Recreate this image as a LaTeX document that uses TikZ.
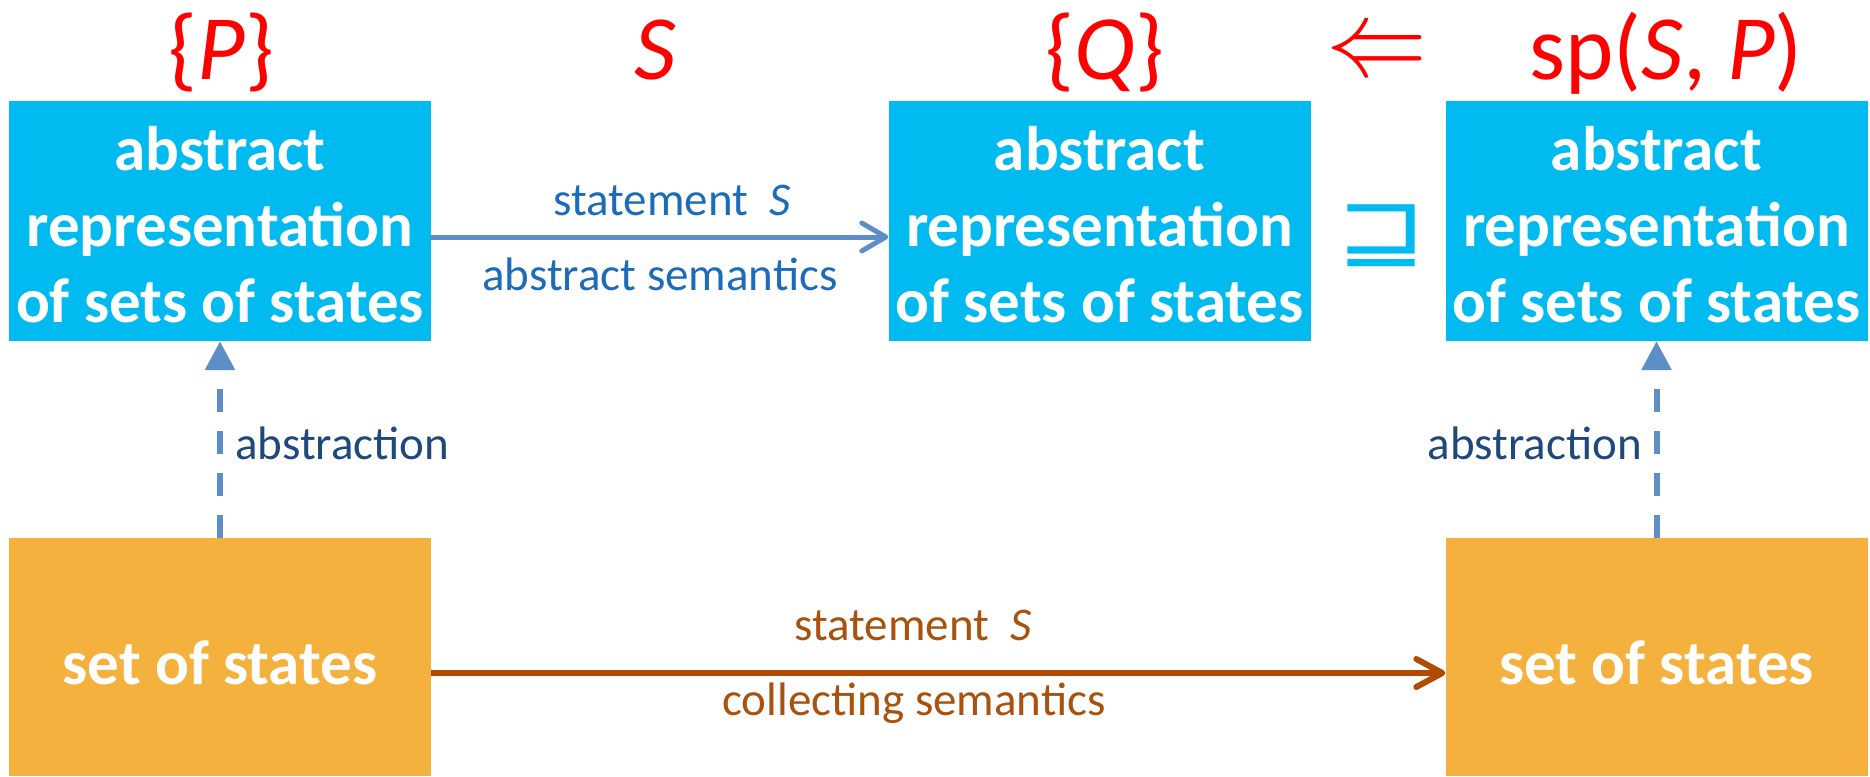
\documentclass[tikz,border=0pt]{standalone}
\usepackage{fontspec}
\setmainfont{Carlito}
\newfontfamily\symfont{DejaVu Sans}
\usetikzlibrary{arrows.meta}
\definecolor{boxblue}{RGB}{0,186,240}
\definecolor{boxorange}{RGB}{245,177,61}
\definecolor{arrowblue}{RGB}{94,142,200}
\definecolor{arroworange}{RGB}{178,74,0}
\definecolor{textblue}{RGB}{28,108,186}
\definecolor{textnavy}{RGB}{31,73,125}
\definecolor{textorange}{RGB}{168,82,14}
\definecolor{labelred}{RGB}{255,0,0}
\newcommand{\boxlines}[1]{\raisebox{-10pt}[\height][\depth]{\begin{tabular}{@{}c@{}}#1\end{tabular}}}
\begin{document}
\begin{tikzpicture}[x=1pt,y=-1pt,
  absbox/.style={fill=boxblue, minimum width=422pt, minimum height=240pt, inner sep=0pt,
    text=white, font=\bfseries\fontsize{63}{76}\selectfont},
  setbox/.style={fill=boxorange, minimum width=422pt, minimum height=238pt, inner sep=0pt,
    text=white, font=\bfseries\fontsize{63}{76}\selectfont},
  toplbl/.style={text=labelred, font=\fontsize{92}{100}\selectfont, inner sep=0pt, anchor=base},
  smalllbl/.style={font=\fontsize{47}{56}\selectfont, inner sep=0pt, anchor=base},
  absarrow/.style={draw=arrowblue, line width=5pt, -{Straight Barb[length=24pt,width=28pt,round]}},
  colarrow/.style={draw=arroworange, line width=6pt, -{Straight Barb[length=26pt,width=28pt,round]}},
  abstrarrow/.style={draw=arrowblue, line width=6pt, dash pattern=on 23pt off 19pt, -{Triangle[length=29pt,width=29pt]}}
]
\useasboundingbox (0,0) rectangle (1870,776);

% boxes
\node[absbox] (A) at (220,221) {\boxlines{abstract\\representation\\of sets of states}};
\node[absbox] (B) at (1099.5,221) {\boxlines{abstract\\representation\\of sets of states}};
\node[absbox] (C) at (1656.5,221) {\boxlines{abstract\\representation\\of sets of states}};
\node[setbox] (D) at (220,657) {\raisebox{-6pt}[\height][\depth]{set of states}};
\node[setbox] (E) at (1656.5,657) {\raisebox{-6pt}[\height][\depth]{set of states}};

% top labels
\node[toplbl] (tP) at (221.5,79) {\{\textit{P}\}};
\node[toplbl] (tS) at (655,79) {\textit{S}};
\node[toplbl] (tQ) at (1105,79) {\{\textit{Q}\}};
\node[text=labelred, inner sep=0pt] (imp) at (1377,55) {\resizebox*{101pt}{40pt}{$\Leftarrow$}};
\node[toplbl] (tsp) at (1666,79) {sp(\textit{S}, \textit{P})};

% sqsupseteq
\node[text=boxblue, inner sep=0pt] (sq) at (1382,235.5) {\resizebox*{90pt}{62pt}{\symfont ⊒}};

% arrows
\draw[absarrow] ([yshift=-16pt]A.east) -- ([yshift=-16pt]B.west);
\draw[colarrow] ([yshift=-16pt]D.east) -- ([yshift=-16pt]E.west);
\draw[abstrarrow] (D.north) -- (A.south);
\draw[abstrarrow] (E.north) -- (C.south);

% arrow labels
\node[smalllbl, text=textblue] (l1) at (672,215) {statement\hspace{0.45em}\textit{S}};
\node[smalllbl, text=textblue] (l2) at (660,290) {abstract semantics};
\node[smalllbl, text=textorange] (l3) at (913,640) {statement\hspace{0.45em}\textit{S}};
\node[smalllbl, text=textorange] (l4) at (914,715) {collecting semantics};
\node[smalllbl, text=textnavy, anchor=base west] (l5) at (235,459) {abstraction};
\node[smalllbl, text=textnavy, anchor=base east] (l6) at (1642,459) {abstraction};
\end{tikzpicture}
\end{document}
